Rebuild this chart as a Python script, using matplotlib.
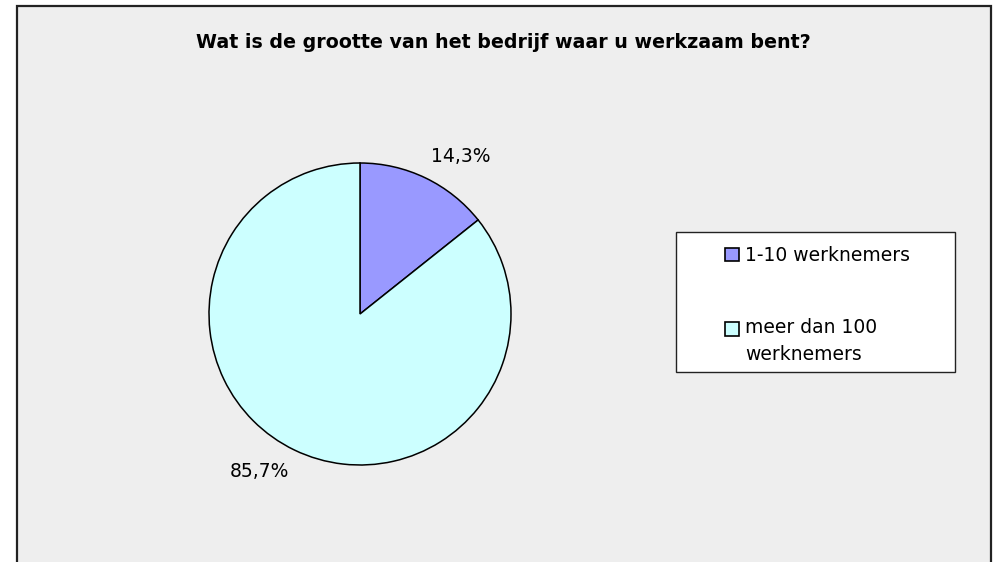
import numpy as np
import matplotlib
matplotlib.use("Agg")
import matplotlib.pyplot as plt
from matplotlib.patches import Rectangle
from matplotlib.legend_handler import HandlerPatch

title = "Wat is de grootte van het bedrijf waar u werkzaam bent?"
categories = ["1-10 werknemers", "meer dan 100\nwerknemers"]
values = [14.3, 85.7]
pct_labels = ["14,3%", "85,7%"]
colors = ["#9999FF", "#CCFFFF"]

W, H = 994, 562
fig = plt.figure(figsize=(W / 100, H / 100), dpi=100)
fig.patch.set_facecolor("white")

# outer chart area
fig.patches.append(Rectangle((17 / W, -0.05), (991 - 17) / W, 1.05 - 6 / H,
                             transform=fig.transFigure, facecolor="#EEEEEE",
                             edgecolor="#222222", linewidth=1.6, zorder=-5))

fig.text(503 / W, 1 - 43 / H, title, ha="center", va="center",
         fontsize=13.7, fontweight="bold", family="DejaVu Sans")

cx, cy, r = 360, 314, 151
ax = fig.add_axes([(cx - r) / W, (H - cy - r) / H, 2 * r / W, 2 * r / H])
ax.set_zorder(2)
wedges, _ = ax.pie(values, colors=colors, startangle=90, counterclock=False,
                   wedgeprops=dict(edgecolor="black", linewidth=1.1))
ax.set_xlim(-1, 1)
ax.set_ylim(-1, 1)
ax.set_aspect("equal")
ax.axis("off")

total = sum(values)
cum = 0.0
for v, lab in zip(values, pct_labels):
    mid = 360 * (cum + v / 2) / total + 6.8
    cum += v
    th = np.deg2rad(mid)
    d = 1.24
    ax.text(d * np.sin(th), d * np.cos(th), lab, ha="center", va="center",
            fontsize=13.5, clip_on=False)

# legend frame
fig.patches.append(Rectangle((676 / W, 1 - 372 / H), (955 - 676) / W, (372 - 232) / H,
                             transform=fig.transFigure, facecolor="white",
                             edgecolor="#222222", linewidth=1.0, zorder=1))


def make_patch(shift):
    def f(legend, orig_handle, xdescent, ydescent, width, height, fontsize):
        return Rectangle((-xdescent, -ydescent + shift), width, height)
    return f


lines_per_label = [c.count("\n") for c in categories]
handler_map = {}
for wdg, n in zip(wedges, lines_per_label):
    handler_map[wdg] = HandlerPatch(patch_func=make_patch(n * 9.4))

leg = fig.legend(wedges, categories, loc="upper left",
                 bbox_to_anchor=(725 / W, 1 - 246 / H), frameon=False,
                 borderpad=0, borderaxespad=0, fontsize=13.5,
                 handlelength=0.75, handleheight=0.75, handletextpad=0.33,
                 labelspacing=2.85, handler_map=handler_map)
for t in leg.get_texts():
    t.set_linespacing(1.51)
for h in leg.legend_handles:
    h.set_edgecolor("black")
    h.set_linewidth(1.2)
leg.set_zorder(3)

fig.savefig("out.png", dpi=100)
